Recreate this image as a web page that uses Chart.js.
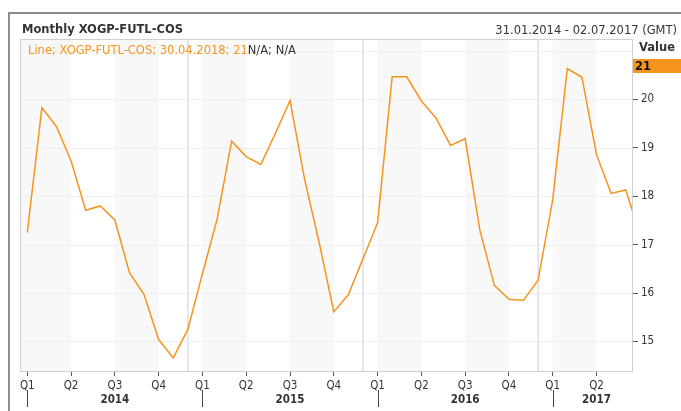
<!DOCTYPE html>
<html>
<head>
<meta charset="utf-8">
<script src="https://cdn.jsdelivr.net/npm/chart.js@4"></script>
<style>
  html, body { margin: 0; padding: 0; background: #fff; }
  #wrap { position: relative; width: 681px; height: 411px; overflow: hidden;
          font-family: "DejaVu Sans", sans-serif; color: #333; }
  #frame { position: absolute; left: 8px; top: 12px; width: 700px; height: 420px;
           border-left: 2px solid #8c8c8c; border-top: 2px solid #8c8c8c; }
  canvas { position: absolute; left: 0; top: 0; }
  .txt { position: absolute; white-space: nowrap; line-height: 14px; font-size: 11.5px; }
  #title { left: 22px; top: 22px; font-weight: bold; }
  #range { right: 4px; top: 23px; }
  #legend { left: 28px; top: 43px; color: #f7941d; }
  #legend span { color: #333; }
  #valhead { left: 639px; top: 40px; font-weight: bold; }
  #valbox { left: 633px; top: 59px; width: 48px; height: 14px; background: #f7941d;
            font-weight: bold; color: #111; padding-left: 2px; box-sizing: border-box; }
</style>
</head>
<body>
<div id="wrap">
  <div id="frame"></div>
  <canvas id="chart" width="681" height="411"></canvas>
  <div class="txt" id="title">Monthly XOGP-FUTL-COS</div>
  <div class="txt" id="range">31.01.2014 - 02.07.2017 (GMT)</div>
  <div class="txt" id="legend">Line; XOGP-FUTL-COS; 30.04.2018; 21<span>N/A; N/A</span></div>
  <div class="txt" id="valhead">Value</div>
  <div class="txt" id="valbox">21</div>
</div>
<script>
// monthly closes, Jan 2014 .. Jul 2017
const values = [
  17.25, 19.83, 19.44, 18.73, 17.71, 17.80, 17.51, 16.42, 15.97, 15.04, 14.66, 15.25,
  16.40, 17.52, 19.14, 18.82, 18.66, 19.30, 19.98, 18.35, 17.04, 15.61, 15.97, 16.71,
  17.45, 20.47, 20.47, 19.97, 19.62, 19.05, 19.19, 17.31, 16.16, 15.87, 15.85, 16.27,
  17.93, 20.64, 20.46, 18.86, 18.06, 18.13, 17.20
];
const quarterLabels = ["Q1", "Q2", "Q3", "Q4"];
const years = ["2014", "2015", "2016", "2017"];
const yTicks = [15, 16, 17, 18, 19, 20, 21];

const ORANGE = "#f7941d";

// month index of every quarter start shown on the axis
const quarterTicks = [];
for (let m = 0; m < values.length - 1; m += 3) quarterTicks.push(m);
// year label sits under Q3 (or last shown quarter)
const yearTicks = years.map((y, i) => Math.min(i * 12 + 6, quarterTicks[quarterTicks.length - 1]));

const points = values.map((v, i) => ({ x: i, y: v }));

const backdrop = {
  id: "backdrop",
  beforeDatasetsDraw(chart) {
    const { ctx, chartArea: a, scales } = chart;
    const x = scales.x;
    ctx.save();
    ctx.beginPath();
    ctx.rect(a.left, a.top, a.right - a.left, a.bottom - a.top);
    ctx.clip();
    // shaded Q1 and Q3 bands
    ctx.fillStyle = "rgba(240,240,240,0.45)";
    quarterTicks.forEach((m, i) => {
      if (i % 2) return;
      const x0 = i === 0 ? a.left : x.getPixelForValue(m);
      const x1 = x.getPixelForValue(m + 3);
      ctx.fillRect(x0, a.top, x1 - x0, a.bottom - a.top);
    });
    // horizontal grid
    ctx.strokeStyle = "#efefef";
    ctx.lineWidth = 1;
    yTicks.forEach(v => {
      const py = Math.round(scales.y.getPixelForValue(v)) + 0.5;
      ctx.beginPath(); ctx.moveTo(a.left, py); ctx.lineTo(a.right, py); ctx.stroke();
    });
    // year separators
    ctx.strokeStyle = "#dedede";
    ctx.lineWidth = 1.5;
    years.forEach((y, i) => {
      const px = x.getPixelForValue(i * 12 + 11);
      ctx.beginPath(); ctx.moveTo(px, a.top); ctx.lineTo(px, a.bottom); ctx.stroke();
    });
    ctx.restore();
  },
  afterDraw(chart) {
    const { ctx, chartArea: a, scales } = chart;
    ctx.save();
    ctx.strokeStyle = "#cfcfcf";
    ctx.lineWidth = 1;
    ctx.strokeRect(a.left + 0.5, a.top + 0.5, a.right - a.left - 1, a.bottom - a.top);
    // long ticks at each year start
    ctx.strokeStyle = "#444";
    years.forEach((y, i) => {
      const px = Math.round(scales.x.getPixelForValue(i * 12)) + 0.5;
      ctx.beginPath(); ctx.moveTo(px, a.bottom + 19); ctx.lineTo(px, a.bottom + 36); ctx.stroke();
    });
    ctx.restore();
  }
};

const tickFont = { family: "'DejaVu Sans Condensed', 'DejaVu Sans', sans-serif", size: 11.5 };

new Chart(document.getElementById("chart"), {
  type: "line",
  data: {
    datasets: [{
      data: points,
      borderColor: ORANGE,
      borderWidth: 1.5,
      pointRadius: 0,
      tension: 0,
      fill: false
    }]
  },
  options: {
    responsive: false,
    animation: false,
    layout: { padding: { left: 20, top: 39, right: 0, bottom: 0 } },
    plugins: { legend: { display: false }, tooltip: { enabled: false } },
    scales: {
      x: {
        type: "linear",
        position: "bottom",
        min: -0.5,
        max: 41.5,
        afterBuildTicks: s => { s.ticks = quarterTicks.map(v => ({ value: v })); },
        afterFit: s => { s.height = 20; },
        ticks: {
          autoSkip: false,
          maxRotation: 0,
          padding: 3,
          color: "#333",
          font: tickFont,
          callback: v => quarterLabels[(v / 3) % 4]
        },
        grid: { drawOnChartArea: false, tickLength: 5, tickColor: "#555", color: "#555" },
        border: { display: false }
      },
      x2: {
        type: "linear",
        position: "bottom",
        min: -0.5,
        max: 41.5,
        afterBuildTicks: s => { s.ticks = yearTicks.map(v => ({ value: v })); },
        afterFit: s => { s.height = 20; },
        ticks: {
          autoSkip: false,
          maxRotation: 0,
          padding: -6,
          color: "#333",
          font: { ...tickFont, weight: "bold" },
          callback: (v, i) => years[i]
        },
        grid: { display: false },
        border: { display: false }
      },
      y: {
        position: "right",
        min: 14.39,
        max: 21.25,
        afterBuildTicks: s => { s.ticks = yTicks.map(v => ({ value: v })); },
        afterFit: s => { s.width = 48; },
        ticks: {
          padding: 3,
          color: "#333",
          font: tickFont,
          callback: v => (v === 21 ? "" : v)
        },
        grid: {
          drawOnChartArea: false,
          tickLength: 5,
          tickColor: c => (c.tick && c.tick.value === 21 ? "rgba(0,0,0,0)" : "#555")
        },
        border: { display: false }
      }
    }
  },
  plugins: [backdrop]
});
</script>
</body>
</html>
